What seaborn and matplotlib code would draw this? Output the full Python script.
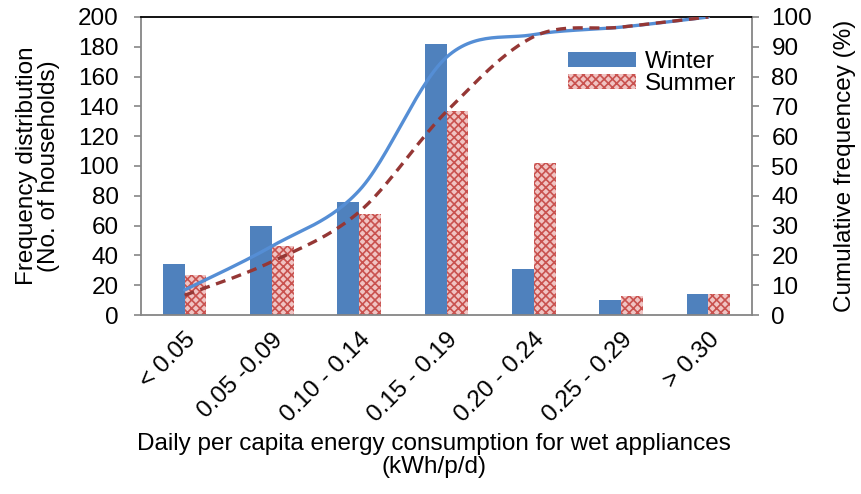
import numpy as np
import pandas as pd
import matplotlib
matplotlib.use("Agg")
import matplotlib.pyplot as plt
import seaborn as sns
from matplotlib.patches import Patch

categories = ["< 0.05", "0.05 -0.09", "0.10 - 0.14", "0.15 - 0.19", "0.20 - 0.24", "0.25 - 0.29", "> 0.30"]
winter = [34, 60, 76, 182, 31, 10, 14]
summer = [27, 46, 68, 137, 102, 13, 14]
winter_cum = [8.4, 23.1, 41.8, 86.5, 94.1, 96.6, 100]
summer_cum = [6.6, 17.9, 34.6, 68.3, 93.4, 96.6, 100]
left_ticks = list(range(0, 201, 20))
right_ticks = list(range(0, 101, 10))

sns.set_theme(style="white")
plt.rcParams["font.family"] = ["Liberation Sans", "DejaVu Sans"]
plt.rcParams["hatch.linewidth"] = 1.2
for k in ["text.color", "axes.labelcolor", "xtick.color", "ytick.color"]:
    plt.rcParams[k] = "black"

FS = 17.5
BLUE = "#4F81BD"
RED = "#C9524F"
LBLUE = "#558ED5"
DRED = "#953735"
GREY = "#868686"
SUMFACE = "#F0C4C3"
HATCH = "xxxx"

df = pd.DataFrame({
    "cat": categories * 2,
    "value": winter + summer,
    "season": ["Winter"] * len(categories) + ["Summer"] * len(categories),
})

fig = plt.figure(figsize=(8.61, 4.94), dpi=100)
ax = fig.add_axes([141 / 861, 1 - 315 / 494, (752 - 141) / 861, (315 - 17) / 494])

sns.barplot(data=df, x="cat", y="value", hue="season", order=categories,
            hue_order=["Winter", "Summer"], palette=[BLUE, RED], width=0.5,
            gap=0, saturation=1, ax=ax, legend=False)

n = len(categories)
for i, p in enumerate(ax.patches):
    if i >= n:
        p.set_facecolor(SUMFACE)
        p.set_edgecolor(RED)
        p.set_hatch(HATCH)
        p.set_linewidth(0)
    else:
        p.set_edgecolor(BLUE)
        p.set_linewidth(0)

ax.set_xlim(-0.5, n - 0.5)
ax.set_ylim(0, 200)
ax.set_yticks(left_ticks)
ax.set_yticklabels([str(t) for t in left_ticks], fontsize=FS)
ax.set_xticks(range(n))
ax.set_xticklabels(categories, rotation=45, ha="right", rotation_mode="anchor", fontsize=FS)
ax.tick_params(axis="x", length=0, pad=10)
ax.set_xticks(np.arange(-0.5, n, 1.0), minor=True)
ax.tick_params(axis="x", which="minor", length=5, width=1.2, color=GREY, direction="out")
ax.tick_params(axis="y", length=5, width=1.2, color=GREY, direction="out", pad=11)
ax.set_xlabel("Daily per capita energy consumption for wet appliances\n(kWh/p/d)", fontsize=FS,
              linespacing=1.1)
ax.xaxis.set_label_coords(0.48, -0.395, transform=ax.transAxes)
ax.xaxis.label.set_va("top")
ax.set_ylabel("Frequency distribution\n(No. of households)", fontsize=FS, labelpad=13, linespacing=1.0)
for s in ["left", "bottom", "right"]:
    ax.spines[s].set_color(GREY)
    ax.spines[s].set_linewidth(1.3)
ax.spines["top"].set_color("black")
ax.spines["top"].set_linewidth(1.3)

ax2 = ax.twinx()
ax2.set_ylim(0, 100)
ax2.set_yticks(right_ticks)
ax2.set_yticklabels([str(t) for t in right_ticks], fontsize=FS)
ax2.tick_params(axis="y", length=5, width=1.2, color=GREY, direction="out", pad=9)
ax2.set_ylabel("Cumulative frequencey (%)", fontsize=FS, labelpad=16)
for s in ax2.spines.values():
    s.set_visible(False)


def smooth(xs, ys, steps=30):
    xs = np.asarray(xs, float)
    ys = np.asarray(ys, float)
    P = np.column_stack([xs, ys])
    out = []
    m = len(P)
    for i in range(m - 1):
        p0 = P[i - 1] if i > 0 else P[i]
        p1 = P[i]
        p2 = P[i + 1]
        p3 = P[i + 2] if i + 2 < m else P[i + 1]
        c1 = p1 + (p2 - p0) / 6
        c2 = p2 - (p3 - p1) / 6
        t = np.linspace(0, 1, steps)[:, None]
        seg = ((1 - t) ** 3) * p1 + 3 * ((1 - t) ** 2) * t * c1 + 3 * (1 - t) * t ** 2 * c2 + t ** 3 * p2
        out.append(seg if i == 0 else seg[1:])
    arr = np.vstack(out)
    return arr[:, 0], arr[:, 1]


xw, yw = smooth(range(n), winter_cum)
xs_, ys_ = smooth(range(n), summer_cum)
sns.lineplot(x=xw, y=yw, ax=ax2, color=LBLUE, linewidth=2.4, sort=False, estimator=None)
sns.lineplot(x=xs_, y=ys_, ax=ax2, color=DRED, linewidth=2.4, sort=False, estimator=None,
             linestyle=(0, (3, 2)))
ax2.set_xlim(-0.5, n - 0.5)

handles = [Patch(facecolor=BLUE, edgecolor=BLUE, linewidth=0),
           Patch(facecolor=SUMFACE, edgecolor=RED, hatch=HATCH, linewidth=0)]
ax2.legend(handles, ["Winter", "Summer"], loc="upper left", bbox_to_anchor=(0.699, 0.885),
           frameon=False, fontsize=FS, handlelength=2.8, handleheight=0.55,
           handletextpad=0.35, labelspacing=0.0, borderaxespad=0, borderpad=0)

fig.savefig("out.png", dpi=100)
